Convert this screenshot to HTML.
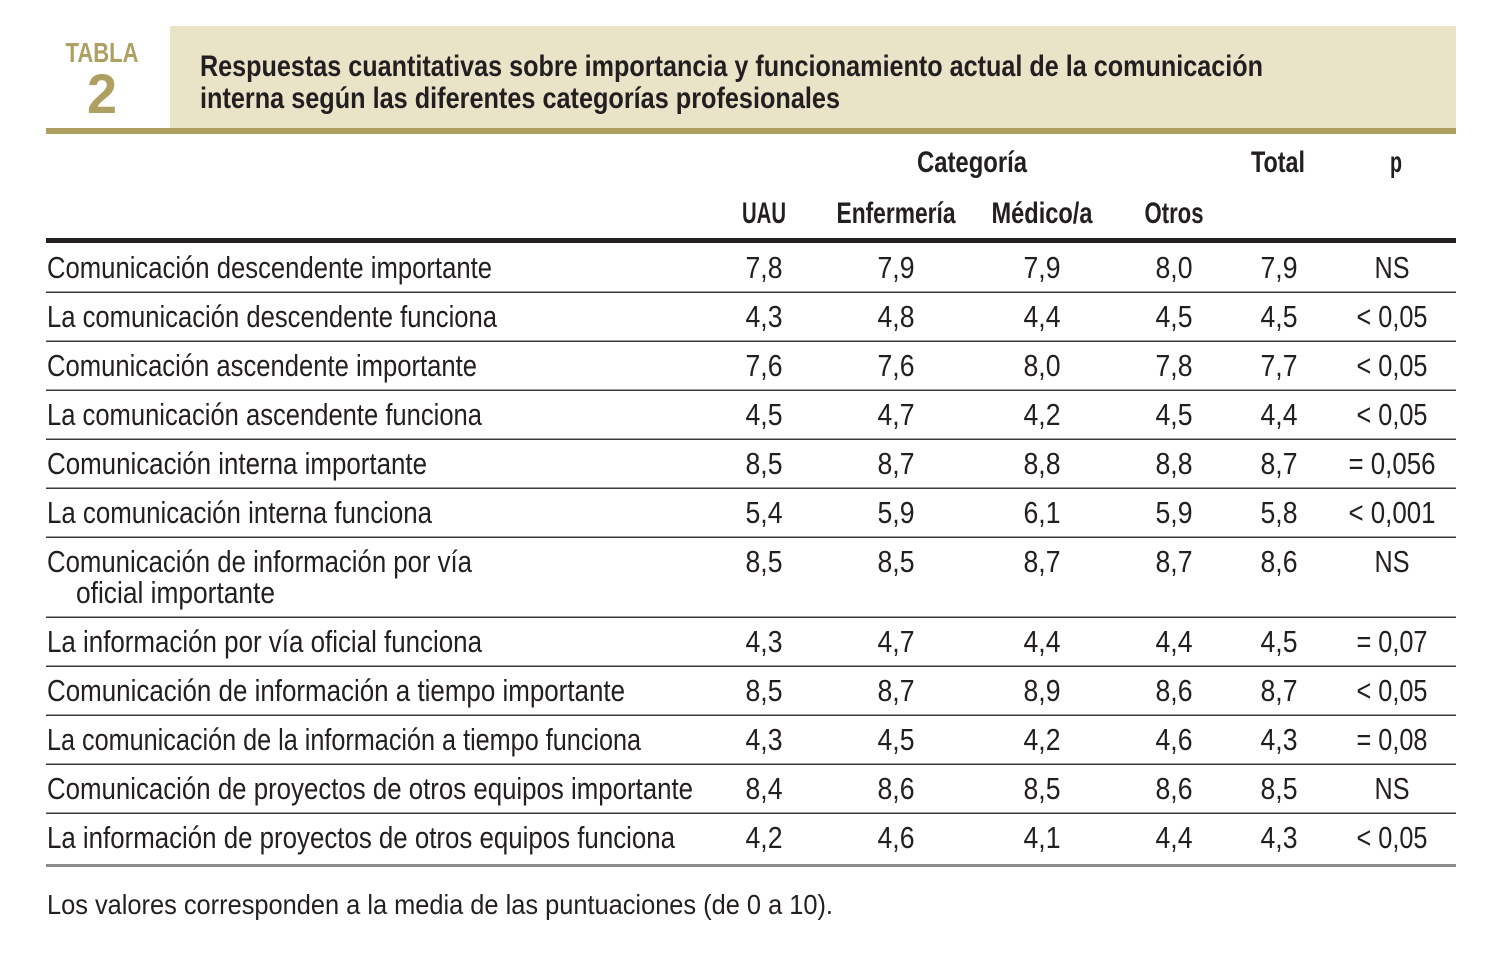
<!DOCTYPE html>
<html><head><meta charset="utf-8"><style>
html,body{margin:0;padding:0;background:#fff;}
svg{display:block;}
text{font-family:"Liberation Sans",sans-serif;fill:#231f20;}
.b{font-weight:bold;}
</style></head><body>
<svg id="s" width="1500" height="954" viewBox="0 0 1500 954">
<rect x="170" y="26" width="1286" height="102" fill="#e9e3c8"/>
<rect x="46" y="128" width="1410" height="6" fill="#aea062"/>
<text x="102" y="62" text-anchor="middle" font-size="28" class="b" style="fill:#aea062" textLength="73" lengthAdjust="spacingAndGlyphs">TABLA</text>
<text x="102" y="113" text-anchor="middle" font-size="56" class="b" style="fill:#aea062" textLength="30" lengthAdjust="spacingAndGlyphs">2</text>
<text x="200" y="76" font-size="30" class="b" textLength="1063" lengthAdjust="spacingAndGlyphs">Respuestas cuantitativas sobre importancia y funcionamiento actual de la comunicación</text>
<text x="200" y="108" font-size="30" class="b" textLength="640" lengthAdjust="spacingAndGlyphs">interna según las diferentes categorías profesionales</text>
<text x="972" y="172" text-anchor="middle" font-size="30" class="b" textLength="110" lengthAdjust="spacingAndGlyphs">Categoría</text>
<text x="1278" y="172" text-anchor="middle" font-size="30" class="b" textLength="54" lengthAdjust="spacingAndGlyphs">Total</text>
<text x="1396" y="172" text-anchor="middle" font-size="30" class="b" textLength="12" lengthAdjust="spacingAndGlyphs">p</text>
<text x="764" y="223" text-anchor="middle" font-size="30" class="b" textLength="44" lengthAdjust="spacingAndGlyphs">UAU</text>
<text x="896" y="223" text-anchor="middle" font-size="30" class="b" textLength="119" lengthAdjust="spacingAndGlyphs">Enfermería</text>
<text x="1042" y="223" text-anchor="middle" font-size="30" class="b" textLength="101" lengthAdjust="spacingAndGlyphs">Médico/a</text>
<text x="1174" y="223" text-anchor="middle" font-size="30" class="b" textLength="59" lengthAdjust="spacingAndGlyphs">Otros</text>
<rect x="46" y="238" width="1410" height="5" fill="#231f20"/>
<rect x="46" y="864" width="1410" height="3" fill="#8c8c8c"/>
<text x="47" y="914" font-size="28" textLength="786" lengthAdjust="spacingAndGlyphs">Los valores corresponden a la media de las puntuaciones (de 0 a 10).</text>
<g id="rows"></g>
</svg>
<script>
const labels=["Comunicación descendente importante","La comunicación descendente funciona","Comunicación ascendente importante","La comunicación ascendente funciona","Comunicación interna importante","La comunicación interna funciona","Comunicación de información por vía|oficial importante","La información por vía oficial funciona","Comunicación de información a tiempo importante","La comunicación de la información a tiempo funciona","Comunicación de proyectos de otros equipos importante","La información de proyectos de otros equipos funciona"];
const labelWidths=[445,450,430,435,380,385,425,435,578,594,646,628];
const uau=["7,8","4,3","7,6","4,5","8,5","5,4","8,5","4,3","8,5","4,3","8,4","4,2"];
const enf=["7,9","4,8","7,6","4,7","8,7","5,9","8,5","4,7","8,7","4,5","8,6","4,6"];
const med=["7,9","4,4","8,0","4,2","8,8","6,1","8,7","4,4","8,9","4,2","8,5","4,1"];
const otros=["8,0","4,5","7,8","4,5","8,8","5,9","8,7","4,4","8,6","4,6","8,6","4,4"];
const total=["7,9","4,5","7,7","4,4","8,7","5,8","8,6","4,5","8,7","4,3","8,5","4,3"];
const pval=["NS","< 0,05","< 0,05","< 0,05","= 0,056","< 0,001","NS","= 0,07","< 0,05","= 0,08","NS","< 0,05"];
const NS="http://www.w3.org/2000/svg";
const g=document.getElementById('rows');
const colX=[764,896,1042,1174,1279,1392];
const cols=[uau,enf,med,otros,total,pval];
const colNames=['uau','enfermeria','medico','otros','total','p'];
function txt(x,y,s,anchor,w){
  const t=document.createElementNS(NS,'text');
  t.setAttribute('x',x);t.setAttribute('y',y);t.setAttribute('font-size','31');
  if(anchor)t.setAttribute('text-anchor',anchor);
  if(w){t.setAttribute('textLength',w);t.setAttribute('lengthAdjust','spacingAndGlyphs');}
  t.textContent=s;g.appendChild(t);return t;
}
let y=244;
labels.forEach((lab,i)=>{
  const parts=lab.split('|');
  const h=parts.length>1?80:49;
  const base=y+34;
  const lt=txt(47,base,parts[0],null,labelWidths[i]);
  
  
  if(parts[1]){
    const l2=txt(76,base+31,parts[1],null,199);
    
    
  }
  cols.forEach((c,j)=>{
    const v=c[i];
    const w=j<5?37:(v.length===2?35:v.length===6?71:v.length===7?87:null);
    const t=txt(colX[j],base,v,'middle',w);
    
    
  });
  y+=h;
  if(i<labels.length-1){
    const r=document.createElementNS(NS,'rect');
    r.setAttribute('x',46);r.setAttribute('y',y-1.5);r.setAttribute('width',1410);r.setAttribute('height',1.5);
    r.setAttribute('fill','#3a3a3a');
    
    
    g.appendChild(r);
  }
});
</script>
</body></html>
